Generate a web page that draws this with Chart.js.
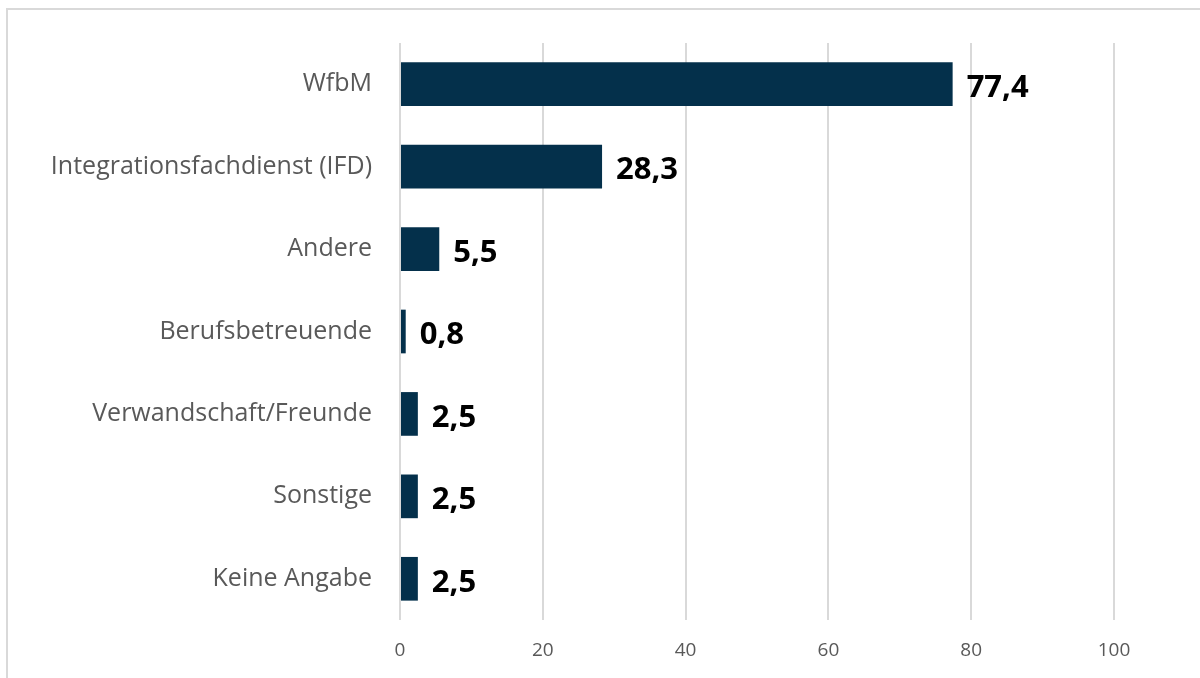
<!DOCTYPE html>
<html><head><meta charset="utf-8">
<script src="https://cdn.jsdelivr.net/npm/chart.js@4/dist/chart.umd.min.js"></script>
<style>
html,body{margin:0;padding:0;background:#fff;overflow:hidden;}
#wrap{position:absolute;left:0;top:0;width:1200px;height:678px;}
#frame{position:absolute;left:6px;top:8px;width:1220px;height:700px;border:2px solid #d9d9d9;box-sizing:border-box;}
canvas{position:absolute;left:0;top:0;}
</style></head>
<body>
<div id="wrap"><div id="frame"></div><canvas id="c" width="1200" height="678"></canvas></div>
<script>
const categories = ["WfbM","Integrationsfachdienst (IFD)","Andere","Berufsbetreuende","Verwandschaft/Freunde","Sonstige","Keine Angabe"];
const values = [77.4, 28.3, 5.5, 0.8, 2.5, 2.5, 2.5];
const xTicks = [0, 20, 40, 60, 80, 100];

const labelPlugin = {
  id: 'barLabels',
  afterDatasetsDraw(chart) {
    const ctx = chart.ctx;
    const meta = chart.getDatasetMeta(0);
    ctx.save();
    ctx.font = 'bold 31px "Open Sans", "Noto Sans", sans-serif';
    ctx.fillStyle = '#000';
    ctx.textAlign = 'left';
    ctx.textBaseline = 'middle';
    meta.data.forEach((bar, i) => {
      const txt = values[i].toFixed(1).replace('.', ',');
      ctx.fillText(txt, bar.x + 14, bar.y + 4);
    });
    ctx.restore();
  }
};

new Chart(document.getElementById('c'), {
  type: 'bar',
  data: {
    labels: categories,
    datasets: [{
      data: values,
      backgroundColor: '#04304b',
      barPercentage: 0.53,
      categoryPercentage: 1.0
    }]
  },
  options: {
    indexAxis: 'y',
    responsive: false,
    animation: false,
    layout: { padding: { top: 38, right: 86, bottom: 0, left: 0 } },
    plugins: { legend: { display: false }, tooltip: { enabled: false } },
    scales: {
      x: {
        min: 0, max: 100,
        afterBuildTicks(scale) { scale.ticks = xTicks.map(v => ({ value: v })); },
        afterFit(scale) { scale.height = 58; },
        grid: { color: '#d9d9d9', lineWidth: 2, drawTicks: false },
        border: { display: false },
        ticks: { color: '#595959', font: { family: '"Open Sans", "Noto Sans", sans-serif', size: 19 }, padding: 19 }
      },
      y: {
        afterFit(scale) { scale.width = 400; },
        grid: { display: false, drawTicks: false },
        border: { display: false },
        ticks: { color: '#595959', font: { family: '"Open Sans", "Noto Sans", sans-serif', size: 25 }, padding: 28 }
      }
    }
  },
  plugins: [labelPlugin]
});
</script>
</body></html>
